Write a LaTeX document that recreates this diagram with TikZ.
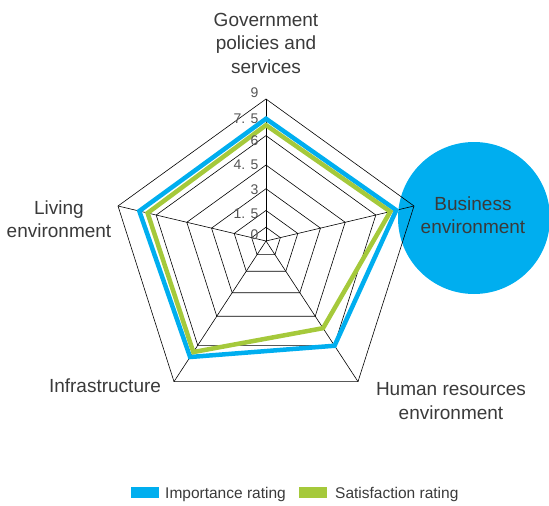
\documentclass[tikz,border=0pt]{standalone}
\usepackage{fontspec}
\setmainfont{Liberation Sans}
\usetikzlibrary{calc}
\definecolor{impblue}{HTML}{00AEEF}
\definecolor{satgreen}{HTML}{A5C93B}
\definecolor{labelgray}{HTML}{3A3A3A}
\definecolor{tickgray}{HTML}{555555}

\begin{document}
\begin{tikzpicture}[x=1pt,y=-1pt,
  grid/.style={draw=black,line width=0.6pt},
  rating/.style={line width=4.5pt,line join=miter},
  axislabel/.style={font=\fontsize{19}{23.5}\selectfont,text=labelgray,align=center,inner sep=0pt},
  tick/.style={font=\fontsize{14}{14}\selectfont,text=tickgray,anchor=east,inner sep=0pt},
  legend/.style={font=\fontsize{15.5}{16}\selectfont,text=labelgray,anchor=base west,inner sep=0pt}]
\useasboundingbox (0,0) rectangle (549,506);
% highlight bubble behind the chart
\fill[impblue] (474,218) circle (76);
% centre and axis tips
\coordinate (o) at (266,241);
\coordinate (gov) at (266,99);
\coordinate (bus) at (414,206);
\coordinate (hum) at (358,381.6);
\coordinate (inf) at (174,381.6);
\coordinate (liv) at (118,206);
% rings
\foreach \f in {0.097,0.215,0.368,0.535,0.742,1}
  \draw[grid] ($(o)!\f!(gov)$) -- ($(o)!\f!(bus)$) -- ($(o)!\f!(hum)$)
    -- ($(o)!\f!(inf)$) -- ($(o)!\f!(liv)$) -- cycle;
% spokes
\foreach \t in {gov,bus,hum,inf,liv}
  \draw[grid] (o) -- (\t);
% ratings
\draw[rating,impblue] ($(o)!0.861!(gov)$) -- ($(o)!0.88!(bus)$) -- ($(o)!0.745!(hum)$)
  -- ($(o)!0.825!(inf)$) -- ($(o)!0.856!(liv)$) -- cycle;
\draw[rating,satgreen] ($(o)!0.816!(gov)$) -- ($(o)!0.84!(bus)$) -- ($(o)!0.62!(hum)$)
  -- ($(o)!0.79!(inf)$) -- ($(o)!0.80!(liv)$) -- cycle;
% scale
\node[tick] (t9) at (258.5,93) {9};
\node[tick] (t75) at (258.5,119) {7. 5};
\node[tick] (t6) at (258.5,141) {6};
\node[tick] (t45) at (258.5,164.7) {4. 5};
\node[tick] (t3) at (258.5,189.7) {3};
\node[tick] (t15) at (258.5,214) {1. 5};
\node[tick] (t0) at (258.5,234.7) {0};
% axis names
\node[axislabel] (govlabel) at (266,43) {Government\\policies and\\services};
\node[axislabel] (buslabel) at (473,215) {Business\\environment};
\node[axislabel] (humlabel) at (451,401) {Human resources\\environment};
\node[axislabel,anchor=base] (inflabel) at (105,392) {Infrastructure};
\node[axislabel] (livlabel) at (59,219) {Living\\environment};
% legend
\fill[impblue] (131,487.3) rectangle (159.3,498.3);
\node[legend] (implegend) at (165,498) {Importance rating};
\fill[satgreen] (299.3,487.3) rectangle (327.3,498.3);
\node[legend] (satlegend) at (335,498) {Satisfaction rating};
\end{tikzpicture}
\end{document}
